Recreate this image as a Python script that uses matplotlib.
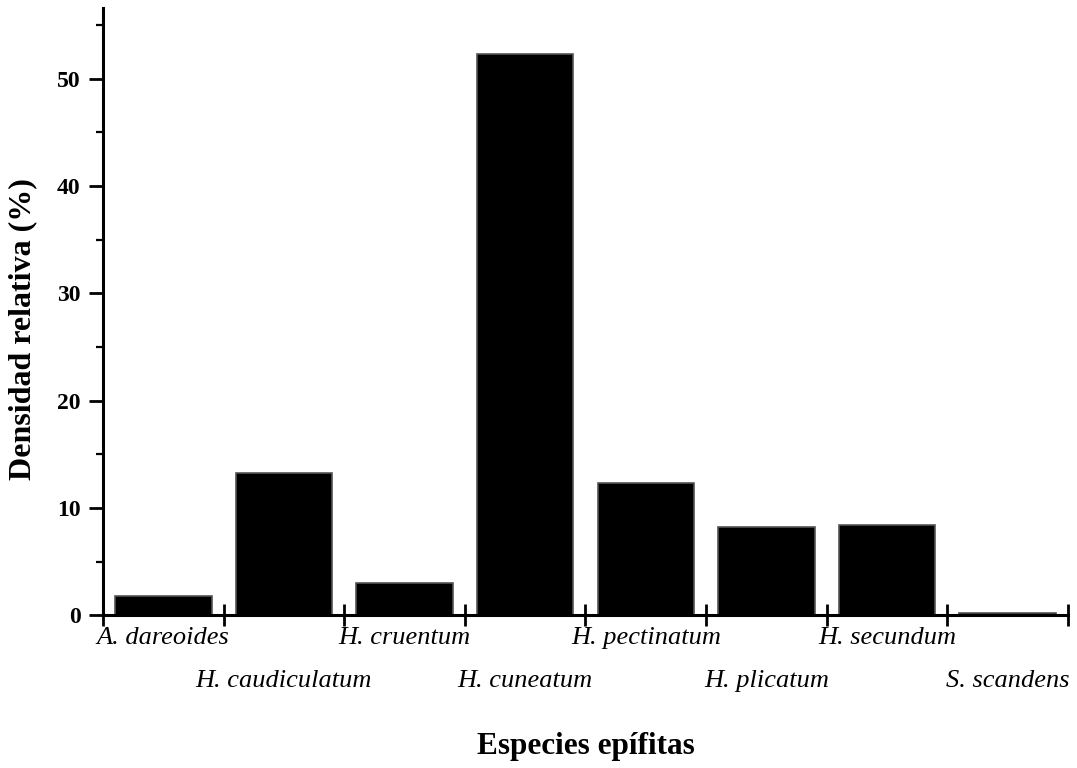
import numpy as np
import matplotlib
matplotlib.use("Agg")
from matplotlib import pyplot as plt
from matplotlib.ticker import MultipleLocator

# relative density of epiphyte species
species = ["A. dareoides", "H. caudiculatum", "H. cruentum", "H. cuneatum",
           "H. pectinatum", "H. plicatum", "H. secundum", "S. scandens"]
densidad = [1.8, 13.2, 3.0, 52.3, 12.3, 8.2, 8.4, 0.2]

plt.rcParams['font.family'] = ['Liberation Serif', 'DejaVu Serif']

fig = plt.figure(figsize=(10.77, 7.68), dpi=100)
ax = fig.add_axes([0.0956, 0.199, 0.896, 0.791])

x = np.arange(len(species))
ax.bar(x, densidad, width=0.8, color='black', edgecolor='#555555', linewidth=1.2)

ax.set_xlim(-0.5, len(species) - 0.5)
ax.set_ylim(0, 56.6)

# spines
for s in ['top', 'right']:
    ax.spines[s].set_visible(False)
for s in ['left', 'bottom']:
    ax.spines[s].set_linewidth(2.2)

# y ticks
ax.yaxis.set_major_locator(MultipleLocator(10))
ax.yaxis.set_minor_locator(MultipleLocator(5))
ax.tick_params(axis='y', which='major', direction='out', length=10, width=2, labelsize=17, pad=6)
ax.tick_params(axis='y', which='minor', direction='out', length=5, width=1.6)
for lab in ax.get_yticklabels():
    lab.set_fontweight('bold')

# x ticks sit on the category boundaries, names go in two staggered rows
ax.set_xticks(np.arange(-0.5, len(species), 1.0))
ax.set_xticklabels([])
ax.tick_params(axis='x', which='major', direction='inout', length=16, width=2)

for i, name in enumerate(species):
    dy = -12 if i % 2 == 0 else -55
    ax.annotate(name, xy=(i, 0), xycoords=('data', 'axes fraction'),
                xytext=(0, dy), textcoords='offset pixels',
                ha='center', va='top', fontsize=19, fontstyle='italic')

# axis titles
ax.text(-0.083, 0.471, "Densidad relativa (%)", transform=ax.transAxes,
        rotation=90, ha='center', va='center', fontsize=23, fontweight='bold')
ax.text(0.5, -0.216, "Especies epífitas", transform=ax.transAxes,
        ha='center', va='center', fontsize=22.5, fontweight='bold')

fig.savefig("out.png", dpi=100)
